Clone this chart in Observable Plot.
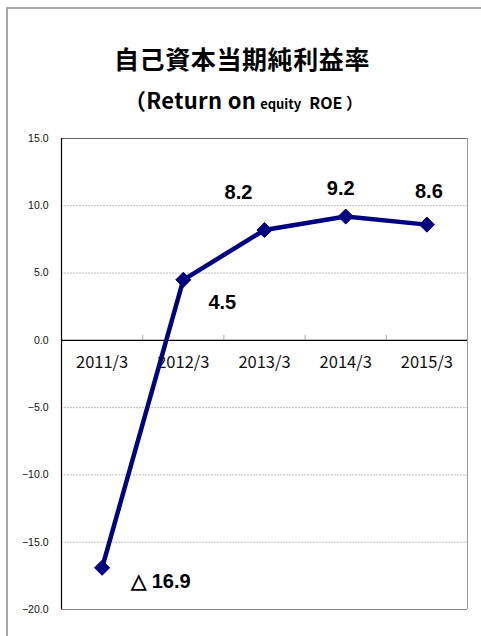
<!DOCTYPE html>
<html>
<head>
<meta charset="utf-8">
<script src="https://cdn.jsdelivr.net/npm/d3@7"></script>
<script src="https://cdn.jsdelivr.net/npm/@observablehq/plot@0.6"></script>
<style>
  html, body { margin: 0; padding: 0; background: #fff; }
  body { width: 481px; height: 636px; position: relative; overflow: hidden; }
  .frame { position: absolute; left: 6px; top: 7px; width: 480px; height: 640px;
           border-left: 2px solid #a9a9a9; border-top: 2px solid #a9a9a9; }
  .title { position: absolute; left: 0; width: 484px; top: 45px; text-align: center;
           font-family: "Noto Sans CJK JP", sans-serif; font-weight: 700; font-size: 25px;
           line-height: 26px; color: #000; letter-spacing: 0.6px; }
  .subtitle { position: absolute; left: 0; width: 486px; top: 86px; text-align: center;
              font-family: "Noto Sans CJK JP", sans-serif; font-weight: 700; color: #000;
              line-height: 26px; white-space: pre; }
  .subtitle .big { font-size: 22px; letter-spacing: 0.3px; }
  .subtitle .small { font-size: 13px; padding-left: 4px; padding-right: 8px; }
  .subtitle .mid { font-size: 16px; }
  #chart { position: absolute; left: 0; top: 120px; }
</style>
</head>
<body>
<div class="frame"></div>
<div class="title">自己資本当期純利益率</div>
<div class="subtitle"><span class="big">（Return on</span><span class="small">equity</span><span class="mid">ROE ）</span></div>
<div id="chart"></div>
<script>
const categories = ["2011/3", "2012/3", "2013/3", "2014/3", "2015/3"];
const roe = [-16.9, 4.5, 8.2, 9.2, 8.6];
const valueLabels = ["△ 16.9", "4.5", "8.2", "9.2", "8.6"];
const yTicks = [-20, -15, -10, -5, 0, 5, 10, 15];

const data = categories.map((c, i) => ({i, cat: c, v: roe[i], label: valueLabels[i]}));
const bounds = categories.slice(1).map((c, i) => i + 0.5);

const navy = "#000080";
const labelFont = {fontFamily: "Liberation Sans, Arial, sans-serif", fontWeight: "bold", fontSize: 20, fill: "#000"};
const at = (k) => data.filter(d => d.i === k);

const chart = Plot.plot({
  width: 481,
  height: 516,
  marginTop: 18,
  marginBottom: 27,
  marginLeft: 61,
  marginRight: 14,
  style: {background: "transparent", overflow: "visible", fontFamily: "Liberation Sans, Arial, sans-serif", fontSize: "10.5px", color: "#111"},
  x: {type: "linear", domain: [-0.5, categories.length - 0.5], axis: null},
  y: {domain: [-20, 15], ticks: yTicks, tickFormat: d => (d < 0 ? "−" : "") + Math.abs(d).toFixed(1), tickSize: 0, tickPadding: 13, label: null},
  marks: [
    Plot.ruleY(yTicks.filter(t => t !== 0 && t !== 15 && t !== -20), {stroke: "#bdbdbd", strokeDasharray: "2,1"}),
    Plot.ruleY([15], {stroke: "#666"}),
    Plot.ruleY([-20], {stroke: "#888"}),
    Plot.ruleX([categories.length - 0.5], {stroke: "#999"}),
    Plot.ruleX(bounds, {y1: 0, y2: 0, insetTop: -5, stroke: "#aaa"}),
    Plot.ruleY([0], {stroke: "#000", strokeWidth: 1.2}),
    Plot.ruleX([-0.5], {stroke: "#000", strokeWidth: 1.2}),
    Plot.text(categories, {x: (d, i) => i, y: 0, dy: 22, text: d => d, fontFamily: "Noto Sans CJK JP, sans-serif", fontSize: 16.5, fill: "#111", letterSpacing: "0.6px"}),
    Plot.line(data, {x: "i", y: "v", stroke: navy, strokeWidth: 4.5, strokeLinejoin: "round"}),
    Plot.dot(data, {x: "i", y: "v", symbol: "diamond2", r: 6.8, fill: navy, stroke: navy, strokeWidth: 1}),
    Plot.text(at(0), {x: "i", y: "v", text: "label", textAnchor: "start", dx: 29, dy: 14, ...labelFont}),
    Plot.text(at(1), {x: "i", y: "v", text: "label", dx: 39, dy: 23, ...labelFont}),
    Plot.text(at(2), {x: "i", y: "v", text: "label", dx: -26, dy: -37, ...labelFont}),
    Plot.text(at(3), {x: "i", y: "v", text: "label", dx: -5, dy: -27.5, ...labelFont}),
    Plot.text(at(4), {x: "i", y: "v", text: "label", dx: 2, dy: -33, ...labelFont})
  ]
});
document.getElementById("chart").append(chart);
</script>
</body>
</html>
